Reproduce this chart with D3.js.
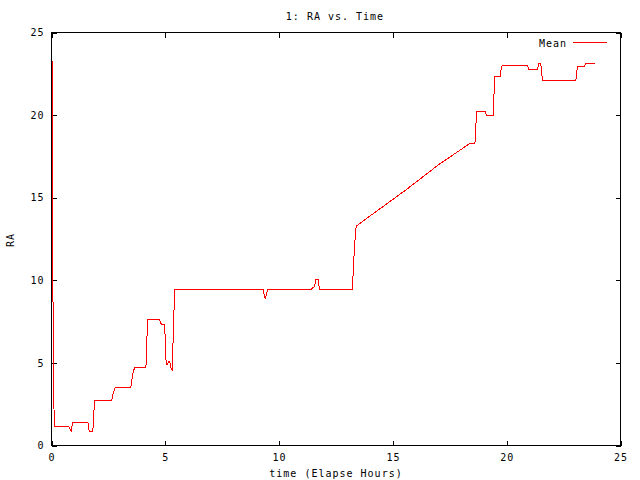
<!DOCTYPE html>
<html>
<head>
<meta charset="utf-8">
<script src="https://cdn.jsdelivr.net/npm/d3@7"></script>
<style>
  html, body { margin: 0; padding: 0; background: #fff; }
  svg text { font-family: "DejaVu Sans Mono", "Liberation Mono", monospace; font-size: 10px; letter-spacing: 1px; fill: #000; }
</style>
</head>
<body>
<svg id="chart" width="640" height="480"></svg>
<script>
const title = "1: RA vs. Time";
const xLabel = "time (Elapse Hours)";
const yLabel = "RA";
const seriesName = "Mean";
const xTicks = [0, 5, 10, 15, 20, 25];
const yTicks = [0, 5, 10, 15, 20, 25];

const time = [0.04, 0.05, 0.07, 0.12, 0.76, 0.86, 0.93, 1.60, 1.66, 1.81, 1.84, 1.87, 1.89,
  2.64, 2.66, 2.72, 2.80, 3.49, 3.55, 3.61, 3.67, 4.15, 4.18, 4.24, 4.74, 4.77, 4.82, 4.96,
  4.99, 5.02, 5.04, 5.10, 5.15, 5.20, 5.24, 5.30, 5.33, 5.38, 5.42, 9.30, 9.39, 9.49,
  11.42, 11.47, 11.55, 11.62, 11.72, 11.77, 13.22, 13.26, 13.30, 13.35, 13.39, 13.99,
  15.56, 17.02, 18.38, 18.60, 18.63, 18.65, 18.67, 19.07, 19.10, 19.40, 19.43, 19.45,
  19.47, 19.72, 19.76, 19.80, 20.92, 20.96, 21.36, 21.40, 21.50, 21.54, 21.58, 23.04,
  23.08, 23.13, 23.42, 23.45, 23.89];
const ra = [23.3, 17.8, 6.7, 1.15, 1.15, 0.85, 1.37, 1.37, 0.85, 0.85, 1.25, 2.2, 2.7,
  2.7, 2.84, 3.2, 3.54, 3.54, 4.18, 4.55, 4.75, 4.75, 6.24, 7.65, 7.65, 7.53, 7.35, 7.35,
  6.7, 5.5, 4.9, 4.9, 5.09, 5.03, 4.7, 4.6, 5.75, 8.1, 9.42, 9.42, 8.86, 9.42,
  9.42, 9.58, 9.6, 10.07, 10.07, 9.42, 9.42, 10.69, 11.7, 12.74, 13.28, 13.89,
  15.46, 17.01, 18.28, 18.28, 18.68, 19.43, 20.23, 20.23, 20.0, 20.0, 20.53, 21.7,
  22.34, 22.34, 22.85, 23.0, 23.0, 22.77, 22.77, 23.1, 23.1, 22.5, 22.1, 22.1,
  22.66, 22.95, 22.95, 23.1, 23.1];

const data = time.map((t, i) => ({ t, v: ra[i] }));

const svg = d3.select("#chart");
const x = d3.scaleLinear().domain([0, 25]).range([51.5, 620.5]);
const y = d3.scaleLinear().domain([0, 25]).range([445.5, 32.5]);
const tickLen = 5;

// Border
svg.append("rect")
  .attr("x", x(0)).attr("y", y(25))
  .attr("width", x(25) - x(0)).attr("height", y(0) - y(25))
  .attr("fill", "none").attr("stroke", "#000").attr("stroke-width", 1)
  .attr("shape-rendering", "crispEdges");

// Axes with inward ticks (gnuplot style, mirrored)
const axBottom = d3.axisBottom(x).tickValues(xTicks).tickSize(-tickLen).tickPadding(tickLen + 7).tickFormat(d3.format("d"));
const axTop = d3.axisTop(x).tickValues(xTicks).tickSize(-tickLen).tickFormat("");
const axLeft = d3.axisLeft(y).tickValues(yTicks).tickSize(-tickLen).tickPadding(tickLen + 8).tickFormat(d3.format("d"));
const axRight = d3.axisRight(y).tickValues(yTicks).tickSize(-tickLen).tickFormat("");

function style(g) {
  g.select(".domain").remove();
  g.selectAll(".tick line").attr("stroke", "#000").attr("shape-rendering", "crispEdges");
  g.selectAll("text").attr("fill", "#000").attr("font-size", null).attr("font-family", null);
}
svg.append("g").attr("transform", `translate(0,${y(0)})`).call(axBottom).call(style)
  .selectAll("text").attr("dy", "0.32em").attr("y", 12);
svg.append("g").attr("transform", `translate(0,${y(25)})`).call(axTop).call(style);
svg.append("g").attr("transform", `translate(${x(0)},0)`).call(axLeft).call(style)
  .selectAll("text").attr("x", -7);
svg.append("g").attr("transform", `translate(${x(25)},0)`).call(axRight).call(style);

// Data line
const line = d3.line().x(d => x(d.t)).y(d => y(d.v));
svg.append("path").datum(data)
  .attr("d", line)
  .attr("fill", "none").attr("stroke", "#ff0000").attr("stroke-width", 1)
  .attr("shape-rendering", "crispEdges");

// Title and labels
svg.append("text").attr("x", 335).attr("y", 16).attr("dy", "0.35em")
  .attr("text-anchor", "middle").text(title);
svg.append("text").attr("x", 336).attr("y", 473).attr("dy", "0.35em")
  .attr("text-anchor", "middle").text(xLabel);
svg.append("text").attr("transform", "translate(10,240) rotate(-90)")
  .attr("dy", "0.35em").attr("text-anchor", "middle").text(yLabel);

// Legend
svg.append("text").attr("x", 567).attr("y", 43).attr("dy", "0.35em")
  .attr("text-anchor", "end").text(seriesName);
svg.append("line").attr("x1", 573).attr("x2", 607).attr("y1", 42.5).attr("y2", 42.5)
  .attr("stroke", "#ff0000").attr("stroke-width", 1).attr("shape-rendering", "crispEdges");
</script>
</body>
</html>
